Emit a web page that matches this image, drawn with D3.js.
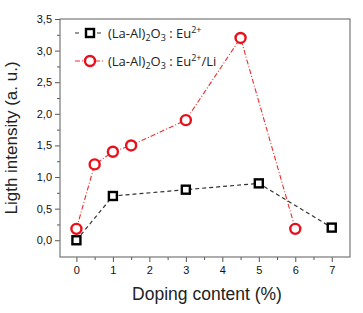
<!DOCTYPE html>
<html>
<head>
<meta charset="utf-8">
<script src="https://cdn.jsdelivr.net/npm/d3@7"></script>
<style>
  body { margin: 0; background: #fff; }
  text { font-family: "Liberation Sans", Arial, sans-serif; }
</style>
</head>
<body>
<div id="chart"></div>
<script>
// data
const euX = [0, 1, 3, 5, 7];
const euY = [0, 0.7, 0.8, 0.9, 0.2];
const liX = [0, 0.5, 1, 1.5, 3, 4.5, 6];
const liY = [0.18, 1.2, 1.4, 1.5, 1.9, 3.2, 0.18];
const xTicks = [0, 1, 2, 3, 4, 5, 6, 7];
const yTicks = [0, 0.5, 1, 1.5, 2, 2.5, 3, 3.5];

const W = 363, H = 313;
const margin = {l: 60, r: 13, t: 19, b: 56};
const width = W - margin.l - margin.r;
const height = H - margin.t - margin.b;

let outer = d3.select("#chart").append("svg")
    .attr("width", W).attr("height", H);
outer.append("rect").attr("width", W).attr("height", H).attr("fill", "#fff");
let svg = outer.append("g").attr("transform", `translate(${margin.l},${margin.t})`);

let x = d3.scaleLinear().domain([-0.45, 7.5]).range([0, width]);
let y = d3.scaleLinear().domain([-0.265, 3.5]).range([height, 0]);
const fmt = d => d3.format(".1f")(d).replace(".", ",");

// minor ticks
svg.append("g").attr("transform", `translate(0,${height})`)
    .call(d3.axisBottom(x).tickValues(d3.range(0.5, 7.5, 1)).tickSize(3).tickFormat(""))
    .call(g => g.select(".domain").remove())
    .selectAll("line").attr("stroke", "#555");
svg.append("g")
    .call(d3.axisLeft(y).tickValues(d3.range(0.25, 3.5, 0.5)).tickSize(3).tickFormat(""))
    .call(g => g.select(".domain").remove())
    .selectAll("line").attr("stroke", "#555");

let ax = svg.append("g").attr("transform", `translate(0,${height})`)
    .call(d3.axisBottom(x).tickValues(xTicks).tickSize(5).tickPadding(4));
ax.select(".domain").remove();
ax.selectAll("line").attr("stroke", "#555");
ax.selectAll("text").attr("font-size", 11).attr("fill", "#111");

let ay = svg.append("g")
    .call(d3.axisLeft(y).tickValues(yTicks).tickSize(5).tickPadding(3).tickFormat(fmt));
ay.select(".domain").remove();
ay.selectAll("line").attr("stroke", "#555");
ay.selectAll("text").attr("font-size", 11).attr("fill", "#111");

// frame
svg.append("rect").attr("width", width).attr("height", height)
    .attr("fill", "none").attr("stroke", "#777").attr("stroke-width", 1.2);

// axis titles
svg.append("text")
    .attr("x", width / 2 + 2).attr("y", height + 43)
    .attr("text-anchor", "middle").attr("font-size", 17.5).attr("fill", "#222")
    .text("Doping content (%)");
svg.append("text")
    .attr("transform", "rotate(-90)")
    .attr("x", -height / 2).attr("y", -43)
    .attr("text-anchor", "middle").attr("font-size", 17).attr("fill", "#222")
    .text("Ligth intensity (a. u.)");

const line = d3.line().x(d => x(d[0])).y(d => y(d[1]));
const euData = euX.map((v, i) => [v, euY[i]]);
const liData = liX.map((v, i) => [v, liY[i]]);

svg.append("path").datum(euData)
    .attr("fill", "none").attr("stroke", "#333").attr("stroke-width", 1.2)
    .attr("stroke-dasharray", "4,3").attr("d", line);
svg.append("path").datum(liData)
    .attr("fill", "none").attr("stroke", "#e83030").attr("stroke-width", 1.1)
    .attr("stroke-dasharray", "5,2,1,2").attr("d", line);

svg.selectAll(".sq").data(euData).enter().append("rect")
    .attr("x", d => x(d[0]) - 4).attr("y", d => y(d[1]) - 4)
    .attr("width", 8).attr("height", 8)
    .attr("fill", "#fff").attr("stroke", "#000").attr("stroke-width", 2.4);
svg.selectAll(".ci").data(liData).enter().append("circle")
    .attr("cx", d => x(d[0])).attr("cy", d => y(d[1])).attr("r", 5)
    .attr("fill", "#fff").attr("stroke", "#e8101a").attr("stroke-width", 2.4);

// legend
let lg = svg.append("g").attr("transform", "translate(15,14)");
lg.append("line").attr("x1", 0).attr("x2", 30).attr("y1", 0).attr("y2", 0)
    .attr("stroke", "#333").attr("stroke-width", 1.2).attr("stroke-dasharray", "4,7");
lg.append("rect").attr("x", 11).attr("y", -4).attr("width", 8).attr("height", 8)
    .attr("fill", "#fff").attr("stroke", "#000").attr("stroke-width", 2.4);
lg.append("line").attr("x1", 0).attr("x2", 30).attr("y1", 28).attr("y2", 28)
    .attr("stroke", "#e83030").attr("stroke-width", 1.1).attr("stroke-dasharray", "5,2,1,2");
lg.append("circle").attr("cx", 15).attr("cy", 28).attr("r", 5)
    .attr("fill", "#fff").attr("stroke", "#e8101a").attr("stroke-width", 2.4);

function legendText(ty, suffix) {
    let t = lg.append("text").attr("x", 33).attr("y", ty + 5)
        .attr("font-size", 13).attr("fill", "#222")
        .style("font-family", "'Open Sans', sans-serif");
    t.append("tspan").text("(La-Al)");
    t.append("tspan").attr("font-size", 9).attr("dy", 3).text("2");
    t.append("tspan").attr("dy", -3).text("O");
    t.append("tspan").attr("font-size", 9).attr("dy", 3).text("3");
    t.append("tspan").attr("dy", -3).text(" : Eu");
    t.append("tspan").attr("font-size", 9).attr("dy", -5).text("2+");
    t.append("tspan").attr("dy", 5).text(suffix);
}
legendText(0, "");
legendText(28, "/Li");
</script>
</body>
</html>
